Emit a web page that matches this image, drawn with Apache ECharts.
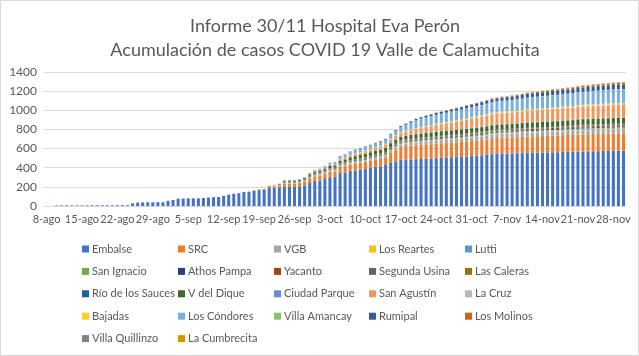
<!DOCTYPE html>
<html>
<head>
<meta charset="utf-8">
<script src="https://cdn.jsdelivr.net/npm/echarts@6/dist/echarts.min.js"></script>
<style>
html,body{margin:0;padding:0;background:#fff;}
#c{width:639px;height:356px;}
</style>
</head>
<body>
<div id="c"></div>
<script>
// Categories: one per day, 8-ago .. 30-nov
const categories = [
"8-ago","9-ago","10-ago","11-ago","12-ago","13-ago","14-ago","15-ago","16-ago","17-ago",
"18-ago","19-ago","20-ago","21-ago","22-ago","23-ago","24-ago","25-ago","26-ago","27-ago",
"28-ago","29-ago","30-ago","31-ago","1-sep","2-sep","3-sep","4-sep","5-sep","6-sep",
"7-sep","8-sep","9-sep","10-sep","11-sep","12-sep","13-sep","14-sep","15-sep","16-sep",
"17-sep","18-sep","19-sep","20-sep","21-sep","22-sep","23-sep","24-sep","25-sep","26-sep",
"27-sep","28-sep","29-sep","30-sep","1-oct","2-oct","3-oct","4-oct","5-oct","6-oct",
"7-oct","8-oct","9-oct","10-oct","11-oct","12-oct","13-oct","14-oct","15-oct","16-oct",
"17-oct","18-oct","19-oct","20-oct","21-oct","22-oct","23-oct","24-oct","25-oct","26-oct",
"27-oct","28-oct","29-oct","30-oct","31-oct","1-nov","2-nov","3-nov","4-nov","5-nov",
"6-nov","7-nov","8-nov","9-nov","10-nov","11-nov","12-nov","13-nov","14-nov","15-nov",
"16-nov","17-nov","18-nov","19-nov","20-nov","21-nov","22-nov","23-nov","24-nov","25-nov",
"26-nov","27-nov","28-nov","29-nov","30-nov"];

const yTicks = [0,200,400,600,800,1000,1200,1400];

const embalse = [
0,0,6,6,6,6,6,6,7,7,
7,7,7,7,8,8,8,28,35,38,
38,38,40,40,55,63,76,78,80,80,
80,84,88,92,94,106,118,128,134,146,
150,158,165,167,188,190,196,200,200,200,
205,215,240,260,268,282,300,305,345,352,
368,372,378,386,398,408,414,428,450,466,
480,484,487,489,491,494,496,499,503,506,
509,511,514,517,521,525,529,534,541,544,
546,547,549,551,552,554,555,557,558,559,
561,562,564,565,566,567,569,570,571,573,
574,575,576,577,578];

const src = [
0,0,0,0,0,0,0,0,0,0,
0,0,0,0,0,0,0,0,0,0,
0,0,0,0,0,0,0,0,0,0,
0,0,0,0,0,0,0,0,0,0,
0,3,5,5,12,14,18,30,32,32,
34,38,45,50,52,55,58,58,62,64,
66,68,70,72,74,76,78,80,105,122,
138,142,144,146,148,150,151,152,152,153,
154,155,156,157,158,159,160,162,165,166,
167,167,168,169,170,171,172,172,173,174,
175,175,176,177,177,178,179,179,180,180,
181,181,182,182,182];

const vgb = [
0,0,0,0,0,0,0,0,0,0,
0,0,0,0,0,0,0,0,0,0,
0,0,0,0,0,0,0,0,0,0,
0,0,0,0,0,0,0,0,0,0,
0,0,0,0,2,2,3,5,5,5,
6,7,8,8,9,9,10,10,11,12,
13,14,15,16,17,18,19,20,21,23,
25,26,27,29,30,31,32,33,33,34,
34,35,35,36,36,37,37,38,39,40,
40,40,40,40,41,41,41,41,41,41,
41,41,41,41,42,42,42,42,42,42,
42,42,42,42,42];

const losReartes = [
0,0,0,0,0,0,0,0,0,0,
0,0,0,0,0,0,0,0,0,0,
0,0,0,0,0,0,0,0,0,0,
0,0,0,0,0,0,0,0,0,0,
0,0,1,1,1,1,2,3,3,3,
3,3,3,3,3,3,4,4,4,4,
4,4,4,4,4,4,5,5,5,5,
5,5,5,5,5,5,5,5,5,5,
5,5,5,6,6,6,6,6,6,6,
6,6,6,6,6,6,6,6,6,6,
6,6,7,7,7,7,7,7,7,7,
7,7,7,7,7];

const lutti = [
0,0,0,0,0,0,0,0,0,0,
0,0,0,0,0,0,0,0,0,0,
0,0,0,0,0,0,0,0,0,0,
0,0,0,0,0,0,0,0,0,0,
0,0,0,0,1,1,1,3,3,3,
3,3,4,4,4,4,4,4,5,5,
5,5,5,5,5,5,5,5,6,6,
6,6,6,6,6,6,6,6,6,6,
6,6,7,7,7,7,7,7,7,7,
7,7,7,7,7,7,7,7,7,7,
7,7,8,8,8,8,8,8,8,8,
8,8,8,8,8];

const sanIgnacio = [
0,0,0,0,0,0,0,0,0,0,
0,0,0,0,0,0,0,0,0,0,
0,0,0,0,0,0,0,0,0,0,
0,0,0,0,0,0,0,0,0,0,
0,0,0,0,0,0,1,2,2,2,
2,2,2,2,2,2,3,3,3,3,
3,3,3,3,3,3,3,3,3,3,
3,3,3,3,4,4,4,4,4,4,
4,4,4,4,4,4,4,4,4,4,
4,4,4,4,4,4,4,4,4,4,
5,5,5,5,5,5,5,5,5,5,
5,5,5,5,5];

const athosPampa = [
0,0,0,0,0,0,0,0,0,0,
0,0,0,0,0,0,0,0,0,0,
0,0,0,0,0,0,0,0,0,0,
0,0,0,0,0,0,0,0,0,0,
0,1,1,1,1,1,2,3,3,3,
3,3,4,4,4,4,5,5,5,5,
5,6,6,6,6,6,6,6,7,7,
7,7,7,7,7,7,7,8,8,8,
8,8,8,8,8,8,8,8,8,8,
8,8,8,9,9,9,9,9,9,9,
9,9,9,9,9,10,10,10,10,10,
10,10,10,10,10];

const yacanto = [
0,0,0,0,0,0,0,0,0,0,
0,0,0,0,0,0,0,0,0,0,
0,0,0,0,0,0,0,0,0,0,
0,0,0,0,0,0,0,0,0,0,
0,1,1,1,2,2,2,4,4,4,
4,4,5,5,5,5,6,6,6,6,
6,7,7,7,7,7,8,8,8,8,
8,8,8,9,9,9,9,9,9,9,
9,9,9,9,10,10,10,10,10,10,
10,10,10,10,10,11,11,11,11,11,
11,11,11,11,11,11,12,12,12,12,
12,12,12,12,12];

const segundaUsina = [
0,0,0,0,0,0,0,0,0,0,
0,0,0,0,0,0,0,0,0,0,
0,0,0,0,0,0,0,0,0,0,
0,0,0,0,0,0,0,0,0,0,
0,0,0,0,0,0,1,2,2,2,
2,2,2,3,3,3,3,3,3,3,
3,4,4,4,4,4,4,4,4,4,
4,4,4,4,4,4,4,4,5,5,
5,5,5,5,5,5,5,5,5,5,
5,5,5,5,5,5,5,5,5,5,
5,5,5,5,6,6,6,6,6,6,
6,6,6,6,6];

const lasCaleras = [
0,0,0,0,0,0,0,0,0,0,
0,0,0,0,0,0,0,0,0,0,
0,0,0,0,0,0,0,0,0,0,
0,0,0,0,0,0,0,0,0,0,
0,0,0,0,0,0,0,1,1,1,
1,1,2,2,2,2,2,2,2,3,
3,3,3,3,3,3,3,3,3,3,
3,3,3,3,3,3,3,4,4,4,
4,4,4,4,4,4,4,4,4,4,
4,4,4,4,4,4,4,4,4,4,
4,4,4,4,4,5,5,5,5,5,
5,5,5,5,5];

const rioSauces = [
0,0,0,0,0,0,0,0,0,0,
0,0,0,0,0,0,0,0,0,0,
0,0,0,0,0,0,0,0,0,0,
0,0,0,0,0,0,0,0,0,0,
0,0,0,0,0,0,1,2,2,2,
2,2,2,2,2,2,2,3,3,3,
3,3,3,3,3,3,4,4,4,4,
4,4,4,4,4,4,5,5,5,5,
5,5,5,5,5,5,5,5,5,5,
5,5,5,5,5,5,5,5,5,5,
5,5,5,5,5,6,6,6,6,6,
6,6,6,6,6];

const vDelDique = [
0,0,0,0,0,0,0,0,0,0,
0,0,0,0,0,0,0,0,0,0,
0,0,0,0,0,0,0,0,0,0,
0,0,0,0,0,0,0,0,0,0,
0,0,0,2,3,3,5,10,10,10,
11,12,15,16,17,19,21,22,25,27,
30,32,35,36,37,38,39,40,40,41,
42,43,44,44,45,45,46,46,47,47,
47,48,48,48,49,49,49,50,50,50,
51,51,52,52,53,53,54,54,55,55,
55,56,56,57,57,57,58,58,58,59,
59,59,60,60,60];

const ciudadParque = [
0,0,0,0,0,0,0,0,0,0,
0,0,0,0,0,0,0,0,0,0,
0,0,0,0,0,0,0,0,0,0,
0,0,0,0,0,0,0,0,0,0,
0,0,0,0,0,0,0,0,0,0,
0,0,0,0,0,0,0,0,0,0,
1,1,1,1,1,1,2,2,2,2,
2,2,2,3,3,3,3,3,3,3,
4,4,4,4,4,4,4,5,5,5,
5,5,5,5,5,5,5,5,5,5,
5,5,5,5,5,6,6,6,6,6,
6,6,6,6,6];

const sanAgustin = [
0,0,0,0,0,0,0,0,0,0,
0,0,0,0,0,0,0,0,0,0,
0,0,0,0,0,0,0,0,0,0,
0,0,0,0,0,0,0,0,0,0,
0,0,0,0,0,0,0,0,0,0,
2,3,5,6,8,9,11,12,15,17,
20,22,25,27,29,31,33,35,37,38,
40,44,48,52,55,60,64,68,71,75,
78,82,86,90,94,98,102,105,108,110,
112,113,114,115,116,117,118,119,120,121,
122,122,123,124,124,125,125,126,127,127,
128,129,129,130,130];

const laCruz = [
0,0,0,0,0,0,0,0,0,0,
0,0,0,0,0,0,0,0,0,0,
0,0,0,0,0,0,0,0,0,0,
0,0,0,0,0,0,0,0,0,0,
0,0,0,0,0,0,0,0,0,0,
0,0,0,0,0,1,1,1,1,1,
2,2,2,2,2,2,3,3,3,3,
3,3,4,4,4,4,4,5,5,5,
5,5,5,5,6,6,6,6,6,6,
6,6,6,6,6,7,7,7,7,7,
7,7,7,7,7,8,8,8,8,8,
8,8,8,8,8];

const bajadas = [
0,0,0,0,0,0,0,0,0,0,
0,0,0,0,0,0,0,0,0,0,
0,0,0,0,0,0,0,0,0,0,
0,0,0,0,0,0,0,0,0,0,
0,0,0,0,0,0,0,0,0,0,
0,0,1,1,1,1,2,2,2,2,
2,3,3,3,3,3,4,4,4,4,
4,5,5,6,6,6,7,7,7,7,
8,8,8,9,9,9,10,10,10,10,
10,10,10,10,10,10,10,10,10,10,
11,11,11,11,11,11,11,11,12,12,
12,12,12,12,12];

const losCondores = [
0,0,0,0,0,0,0,0,0,0,
0,0,0,0,0,0,0,0,0,0,
0,0,0,0,0,0,0,0,0,0,
0,0,0,0,0,0,0,0,0,0,
0,0,0,0,0,0,1,3,3,3,
4,5,8,10,12,15,17,18,28,30,
34,36,37,38,39,40,41,42,44,46,
50,60,70,80,88,89,91,94,96,98,
100,102,103,104,105,106,107,108,108,110,
111,112,113,115,117,119,121,123,125,126,
127,128,129,130,131,132,133,134,135,136,
137,138,139,140,140];

const villaAmancay = [
0,0,0,0,0,0,0,0,0,0,
0,0,0,0,0,0,0,0,0,0,
0,0,0,0,0,0,0,0,0,0,
0,0,0,0,0,0,0,0,0,0,
0,0,0,0,0,0,0,0,0,0,
0,0,0,0,0,0,0,0,0,0,
0,0,0,0,0,0,1,1,1,1,
1,1,1,1,1,1,1,1,1,1,
2,2,2,2,2,2,2,2,2,2,
2,2,2,2,2,3,3,3,3,3,
3,3,3,3,3,4,4,4,4,4,
4,4,4,4,4];

const rumipal = [
0,0,0,0,0,0,0,0,0,0,
0,0,0,0,0,0,0,0,0,0,
0,0,0,0,0,0,0,0,0,0,
0,0,0,0,0,0,0,0,0,0,
0,0,0,0,0,0,0,0,0,0,
0,0,0,0,0,2,2,2,3,3,
3,4,5,5,5,6,6,7,7,8,
10,11,13,14,15,17,18,19,20,21,
22,23,24,26,27,28,29,30,32,33,
34,35,36,37,38,39,40,40,41,42,
42,43,43,44,44,45,45,46,46,46,
47,47,48,48,48];

const losMolinos = [
0,0,0,0,0,0,0,0,0,0,
0,0,0,0,0,0,0,0,0,0,
0,0,0,0,0,0,0,0,0,0,
0,0,0,0,0,0,0,0,0,0,
0,0,0,0,0,0,0,0,0,0,
0,0,0,0,0,0,0,0,0,0,
0,0,0,0,0,1,1,1,1,1,
1,2,2,2,3,3,3,3,3,3,
4,4,4,4,4,4,5,5,5,5,
6,6,7,7,8,8,9,9,10,10,
11,11,12,12,13,13,14,14,15,15,
16,16,17,17,18];

const villaQuillinzo = [
0,0,0,0,0,0,0,0,0,0,
0,0,0,0,0,0,0,0,0,0,
0,0,0,0,0,0,0,0,0,0,
0,0,0,0,0,0,0,0,0,0,
0,0,0,0,0,0,0,0,0,0,
0,0,0,0,0,0,0,0,0,0,
0,0,0,0,0,0,0,0,0,0,
0,0,0,0,0,1,1,1,1,1,
1,1,2,2,2,2,2,2,3,3,
3,3,3,3,3,3,3,3,3,3,
4,4,4,4,4,4,4,4,4,4,
4,4,4,4,4];

const laCumbrecita = [
0,0,0,0,0,0,0,0,0,0,
0,0,0,0,0,0,0,0,0,0,
0,0,0,0,0,0,0,0,0,0,
0,0,0,0,0,0,0,0,0,0,
0,0,0,0,0,0,0,0,0,0,
0,0,0,0,0,0,0,0,0,0,
0,0,0,0,0,0,0,0,0,0,
0,0,0,0,0,0,0,0,0,0,
0,0,0,0,1,1,1,1,2,2,
2,2,2,3,3,3,3,3,4,4,
4,4,4,4,5,5,5,5,5,5,
6,6,6,6,6];

const seriesNames = ["Embalse","SRC","VGB","Los Reartes","Lutti","San Ignacio","Athos Pampa","Yacanto","Segunda Usina","Las Caleras","Río de los Sauces","V del Dique","Ciudad Parque","San Agustín","La Cruz","Bajadas","Los Cóndores","Villa Amancay","Rumipal","Los Molinos","Villa Quillinzo","La Cumbrecita"];
const seriesData = [embalse,src,vgb,losReartes,lutti,sanIgnacio,athosPampa,yacanto,segundaUsina,lasCaleras,rioSauces,vDelDique,ciudadParque,sanAgustin,laCruz,bajadas,losCondores,villaAmancay,rumipal,losMolinos,villaQuillinzo,laCumbrecita];
const seriesColors = ["#4472C4","#ED7D31","#A5A5A5","#FFC000","#5B9BD5","#70AD47","#264478","#9E480E","#636363","#997300","#255E91","#43682B","#698ED0","#F1975A","#B7B7B7","#FFCD33","#7CAFDD","#8CC168","#335AA1","#D26012","#848484","#CC9A00"];

const TFONT = "Lato";
const FONT = "Lato";
const TXT = "#595959";

const chart = echarts.init(document.getElementById('c'), null, {renderer:'canvas'});

const series = seriesNames.map((n,i)=>({
  name:n, type:'bar', stack:'total', data:seriesData[i],
  itemStyle:{color:seriesColors[i]}, barCategoryGap:'40%', emphasis:{disabled:true}, animation:false
}));

// legend columns (5 columns)
const cols = [[0,5,10,15,20],[1,6,11,16,21],[2,7,12,17],[3,8,13,18],[4,9,14,19]];
const colX = [77,173,269,364,460];
const legends = cols.map((idx,ci)=>({
  orient:'vertical', left:colX[ci], top:237, itemWidth:7, itemHeight:7, itemGap:8.4,
  icon:'rect', selectedMode:false,
  data:idx.map(i=>seriesNames[i]),
  textStyle:{fontFamily:FONT, fontSize:11, color:TXT, lineHeight:14, padding:[0,0,0,-2]}
}));

chart.setOption({
  animation:false,
  backgroundColor:'#fff',
  title:{text:'Informe 30/11 Hospital Eva Perón\nAcumulación de casos COVID 19 Valle de Calamuchita', left:320, top:9,
    textAlign:'center',
    textStyle:{fontFamily:TFONT, fontSize:18, fontWeight:'normal', color:TXT, lineHeight:24}},
  graphic:[{type:'rect', shape:{x:0.5,y:0.5,width:638,height:355}, style:{fill:'none', stroke:'#D9D9D9', lineWidth:1}, silent:true}],
  grid:{left:44, right:13, top:72, bottom:150},
  legend:legends,
  xAxis:{type:'category', data:categories, boundaryGap:true,
    axisLine:{lineStyle:{color:'#D9D9D9'}},
    axisTick:{interval:6, length:4, lineStyle:{color:'#D9D9D9'}},
    axisLabel:{interval:6, hideOverlap:false, fontFamily:FONT, fontSize:11, color:TXT, margin:8}},
  yAxis:{type:'value', min:0, max:1400, interval:200,
    axisLine:{show:false}, axisTick:{show:false},
    axisLabel:{fontFamily:FONT, fontSize:12, color:TXT, margin:7, formatter:(v)=>yTicks.includes(v)?String(v):''},
    splitLine:{lineStyle:{color:'#D9D9D9'}}},
  series:series
});
</script>
</body>
</html>
